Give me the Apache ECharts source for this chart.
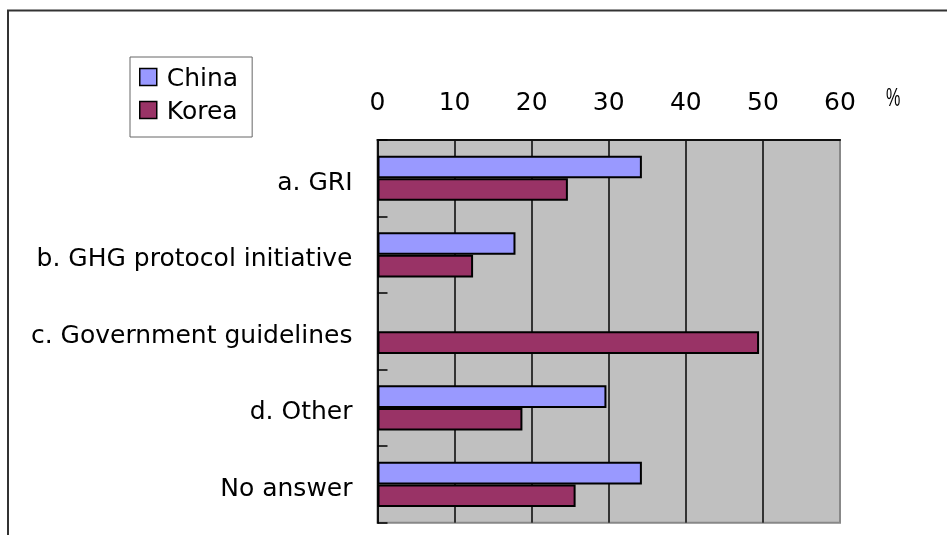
<!DOCTYPE html>
<html><head><meta charset="utf-8">
<script src="https://cdn.jsdelivr.net/npm/echarts@6/dist/echarts.min.js"></script>
<style>html,body{margin:0;padding:0;background:#fff}#c{width:947px;height:535px}</style>
</head><body><div id="c"></div>
<script>
var categories = ['a. GRI', 'b. GHG protocol initiative', 'c. Government guidelines', 'd. Other', 'No answer'];
var chinaValues = [34.3, 17.9, null, 29.7, 34.3];
var koreaValues = [24.7, 12.4, 49.5, 18.8, 25.7];
var seriesNames = ['China', 'Korea'];
var xTicks = {min: 0, max: 60, interval: 10};
var unitLabel = '%';

var FONT = '"DejaVu Sans", sans-serif';
var chart = echarts.init(document.getElementById('c'), null, {renderer: 'canvas'});
chart.setOption({
  backgroundColor: '#fff',
  animation: false,
  graphic: [
    {type: 'polyline', shape: {points: [[8, 560], [8, 10.5], [960, 10.5]]}, style: {stroke: '#333', lineWidth: 2, fill: null}, z: 0},
    {type: 'text', left: 886, top: 86, scaleX: 0.62, style: {text: unitLabel, font: '26px "Liberation Sans", sans-serif', fill: '#000'}}
  ],
  legend: {
    orient: 'vertical', left: 130, top: 57,
    data: seriesNames,
    icon: 'rect', itemWidth: 17, itemHeight: 17, itemGap: 8,
    padding: [10, 14, 12, 9],
    borderColor: '#666', borderWidth: 1,
    backgroundColor: '#fff',
    itemStyle: {borderColor: '#000', borderWidth: 1.5},
    formatter: function (n) { return '{t|' + n + '}'; },
    textStyle: {fontFamily: FONT, fontSize: 25, color: '#000',
      rich: {t: {fontFamily: FONT, fontSize: 25, color: '#000', padding: [5, 0, 0, 5]}}}
  },
  grid: {left: 377.5, right: 107, top: 140, bottom: 12.3, show: true, backgroundColor: '#C0C0C0', borderColor: '#888', borderWidth: 2},
  xAxis: {
    type: 'value', position: 'top', min: xTicks.min, max: xTicks.max, interval: xTicks.interval,
    axisLine: {show: true, lineStyle: {color: '#111', width: 2}},
    axisTick: {show: false},
    axisLabel: {fontFamily: FONT, fontSize: 25, color: '#000', margin: 24},
    splitLine: {show: true, showMinLine: false, showMaxLine: false, lineStyle: {color: '#333', width: 2}}
  },
  yAxis: {
    type: 'category', inverse: true, data: categories,
    axisLine: {show: true, lineStyle: {color: '#111', width: 2}},
    axisTick: {show: true, inside: true, length: 10, lineStyle: {color: '#000', width: 1.5}},
    axisLabel: {margin: 25, formatter: function (v) { return '{t|' + v + '}'; },
      rich: {t: {fontFamily: FONT, fontSize: 25, color: '#000', padding: [10, 0, 0, 0]}}},
    splitLine: {show: false}
  },
  series: [
    {name: seriesNames[0], type: 'bar', data: chinaValues, barGap: '0%', barCategoryGap: '41%',
     itemStyle: {color: '#9999FF', borderColor: '#000', borderWidth: 2}},
    {name: seriesNames[1], type: 'bar', data: koreaValues, barGap: '0%', barCategoryGap: '41%',
     itemStyle: {color: '#993366', borderColor: '#000', borderWidth: 2}}
  ]
});
</script></body></html>
